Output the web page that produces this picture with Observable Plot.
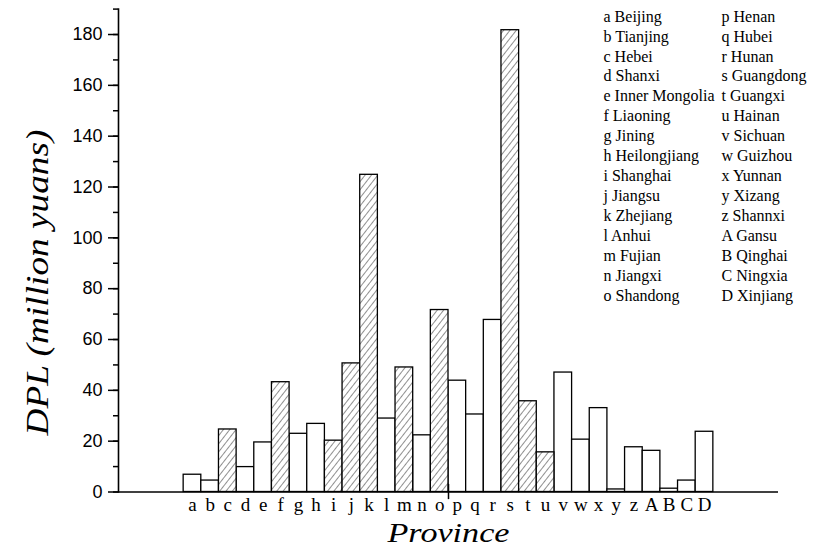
<!DOCTYPE html>
<html>
<head>
<meta charset="utf-8">
<script src="https://cdn.jsdelivr.net/npm/d3@7"></script>
<script src="https://cdn.jsdelivr.net/npm/@observablehq/plot@0.6"></script>
<style>
  html, body { margin: 0; padding: 0; background: white; }
  #chart { width: 836px; height: 553px; }
</style>
</head>
<body>
<div id="chart"></div>
<script>
// ---- data ----
const categories = ["a","b","c","d","e","f","g","h","i","j","k","l","m","n","o",
                    "p","q","r","s","t","u","v","w","x","y","z","A","B","C","D"];
const provinces = ["Beijing","Tianjing","Hebei","Shanxi","Inner Mongolia","Liaoning","Jining",
                   "Heilongjiang","Shanghai","Jiangsu","Zhejiang","Anhui","Fujian","Jiangxi","Shandong",
                   "Henan","Hubei","Hunan","Guangdong","Guangxi","Hainan","Sichuan","Guizhou",
                   "Yunnan","Xizang","Shannxi","Gansu","Qinghai","Ningxia","Xinjiang"];
const dpl = [6.8, 4.5, 24.6, 9.8, 19.5, 43.2, 22.9, 26.8, 20.2, 50.6, 124.8, 28.9, 49.0, 22.3, 71.6,
             43.8, 30.5, 67.7, 181.7, 35.7, 15.6, 47.0, 20.6, 33.0, 1.0, 17.6, 16.2, 1.3, 4.5, 23.7];
const hatched = ["c","f","i","j","k","m","o","s","t","u"];
const yMajorTicks = [0, 20, 40, 60, 80, 100, 120, 140, 160, 180];
const yMinorTicks = [0, 10, 20, 30, 40, 50, 60, 70, 80, 90, 100, 110, 120, 130, 140, 150, 160, 170, 180, 190];
const yLabel = "DPL (million yuans)";
const xLabel = "Province";

// ---- derived ----
const rows = categories.map((c, i) => ({code: c, name: provinces[i], value: dpl[i], hatched: hatched.includes(c)}));
const legendLeft = rows.slice(0, 15).map(d => `${d.code} ${d.name}`).join("\n");
const legendRight = rows.slice(15).map(d => `${d.code} ${d.name}`).join("\n");

const serif = "'Liberation Serif', 'Times New Roman', serif";
const sans = "'Liberation Sans', Arial, sans-serif";

const svg = Plot.plot({
  width: 836,
  height: 553,
  marginLeft: 118,
  marginRight: 58,
  marginTop: 8.6,
  marginBottom: 61.5,
  style: {fontFamily: serif, background: "white", color: "black", overflow: "visible"},
  x: {type: "band", domain: categories, paddingInner: 0, paddingOuter: 3.69, align: 0.5, round: false},
  y: {domain: [0, 190]},
  marks: [
    Plot.barY(rows.filter(d => !d.hatched), {x: "code", y: "value", fill: "white", stroke: "black", strokeWidth: 1.3}),
    Plot.barY(rows.filter(d => d.hatched), {x: "code", y: "value", fill: "url(#hatch)", stroke: "black", strokeWidth: 1.3}),
    Plot.ruleY([0], {stroke: "black", strokeWidth: 1.6}),
    Plot.frame({anchor: "left", stroke: "black", strokeWidth: 1.6}),
    Plot.ruleX(["p"], {y1: -3, y2: 3, dx: -8.83, stroke: "black", strokeWidth: 1.5}),
    Plot.axisY({ticks: yMinorTicks, tickSize: 5, tickFormat: () => "", label: null, strokeWidth: 1.5}),
    Plot.axisY({ticks: yMajorTicks, tickSize: 10, tickPadding: 6, label: null, fontSize: 18, fontFamily: sans, strokeWidth: 1.5}),
    Plot.axisX({tickSize: 0, tickPadding: 5, label: null, fontSize: 19, fontFamily: serif}),
    Plot.text([yLabel], {frameAnchor: "left", textAnchor: "middle", rotate: -90, dx: -80, dy: 32, fontSize: 31, fontStyle: "italic", fontFamily: serif}),
    Plot.text([xLabel], {frameAnchor: "bottom", textAnchor: "middle", dy: 50, fontSize: 28, fontStyle: "italic", fontFamily: serif}),
    Plot.text([legendLeft], {frameAnchor: "top-right", textAnchor: "start", lineAnchor: "top", dx: -175, dy: -1.5, lineHeight: 1.245, fontSize: 16, fontFamily: serif}),
    Plot.text([legendRight], {frameAnchor: "top-right", textAnchor: "start", lineAnchor: "top", dx: -57, dy: -1.5, lineHeight: 1.245, fontSize: 16, fontFamily: serif})
  ]
});

// hatch pattern definition
const defs = d3.select(svg).insert("defs", ":first-child");
const pat = defs.append("pattern")
  .attr("id", "hatch")
  .attr("patternUnits", "userSpaceOnUse")
  .attr("width", 5)
  .attr("height", 5)
  .attr("patternTransform", "rotate(38)");
pat.append("rect").attr("width", 5).attr("height", 5).attr("fill", "white");
pat.append("line").attr("x1", 0).attr("y1", 0).attr("x2", 0).attr("y2", 5)
  .attr("stroke", "#222").attr("stroke-width", 1);

// the scanned titles use a wider italic face: stretch them to the reference length
d3.select(svg).selectAll("text").each(function() {
  const t = this.textContent;
  if (t === yLabel) d3.select(this).attr("textLength", 306).attr("lengthAdjust", "spacingAndGlyphs");
  if (t === xLabel) d3.select(this).attr("textLength", 122).attr("lengthAdjust", "spacingAndGlyphs");
});

document.getElementById("chart").appendChild(svg);
</script>
</body>
</html>
